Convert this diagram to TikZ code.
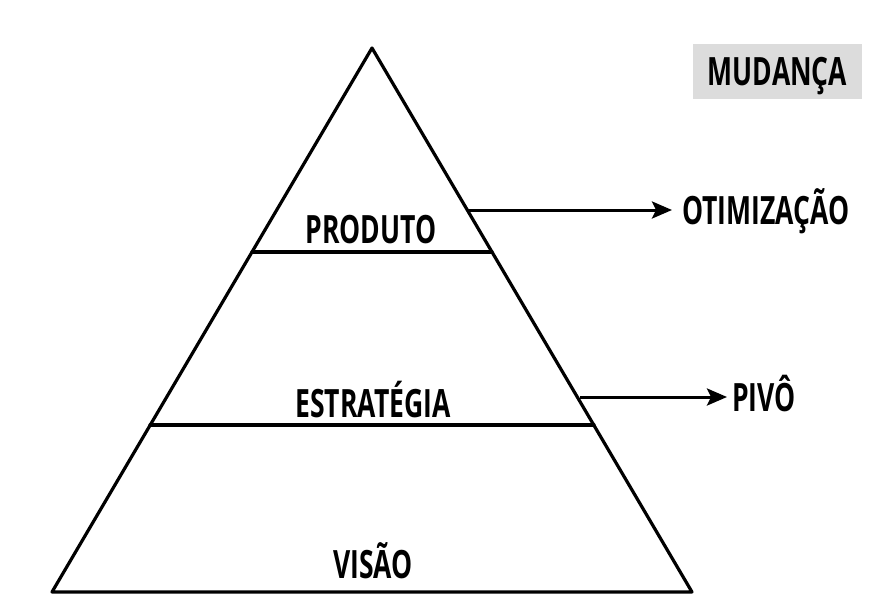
\documentclass[tikz,border=0pt]{standalone}
\usepackage{fontspec}
\setmainfont{Open Sans}[FakeStretch=0.68]
\usetikzlibrary{arrows.meta}
\definecolor{boxgray}{HTML}{DCDCDC}
\tikzset{
  edge/.style={line width=3.2pt, line cap=round, line join=round},
  lbl/.style={font=\fontsize{39}{41}\selectfont\bfseries, inner sep=0pt, anchor=base},
  arr/.style={line width=3pt, -{Stealth[length=20pt,width=17pt,inset=4pt]}}
}
\begin{document}
\begin{tikzpicture}[x=1pt,y=-1pt]
\useasboundingbox (0,0) rectangle (873,600);
\coordinate (apex) at (372,48);
\coordinate (bl) at (52,592);
\coordinate (br) at (692,592);
\coordinate (l1) at (252,252);
\coordinate (r1) at (492,252);
\coordinate (l2) at (150,425);
\coordinate (r2) at (594,425);
\draw[edge] (apex) -- (bl) -- (br) -- cycle;
\draw[edge] (l1) -- (r1);
\draw[edge] (l2) -- (r2);
\node[lbl] (produto) at (371,243) {PRODUTO};
\node[lbl] (estrategia) at (373,417) {ESTRATÉGIA};
\node[lbl] (visao) at (373,578) {VISÃO};
\node[fill=boxgray, minimum width=169pt, minimum height=55pt, inner sep=0pt] (mudbox) at (777.5,71.5) {};
\node[lbl] (mudanca) at (777.5,85) {MUDANÇA};
\node[lbl, anchor=base west] (otim) at (682,224) {OTIMIZAÇÃO};
\node[lbl, anchor=base west] (pivo) at (732,411) {PIVÔ};
\coordinate (a1) at (468,210);
\coordinate (e1) at (672,210);
\coordinate (a2) at (580,397);
\coordinate (e2) at (727,397);
\draw[arr] (a1) -- (e1);
\draw[arr] (a2) -- (e2);
\end{tikzpicture}
\end{document}
